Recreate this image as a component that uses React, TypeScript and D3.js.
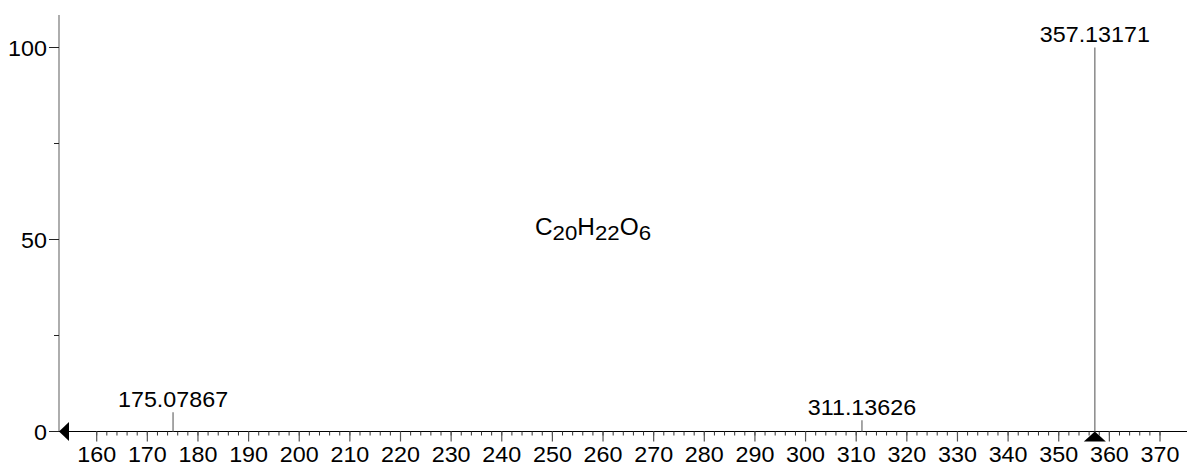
import React from "react";
import * as d3 from "d3";

const peakMz = [175.07867, 311.13626, 357.13171];
const peakIntensity = [5.0, 2.9, 100];
const peakLabels = ["175.07867", "311.13626", "357.13171"];
const precursorMz = 357.13171;
const xMajorTicks = d3.range(160, 371, 10);
const xMinorTicks = d3.range(160, 371, 2);
const yMajorTicks = [0, 50, 100];
const yMinorTicks = [25, 75];
const formulaParts = [
  { t: "C", sub: false },
  { t: "20", sub: true },
  { t: "H", sub: false },
  { t: "22", sub: true },
  { t: "O", sub: false },
  { t: "6", sub: true },
];

const W = 1187;
const H = 466;
const FONT = "'Liberation Sans', Arial, Helvetica, sans-serif";
const SX = 1.06;
const FS = 22;

export default function App() {
  const x = d3.scaleLinear().domain([160, 370]).range([96.7, 1160]);
  const y = d3.scaleLinear().domain([0, 100]).range([431.5, 47.5]);
  const axisLeft = 59;
  const y0 = y(0);

  const T = (props: { x: number; y: number; anchor: string; children: any }) => (
    <g transform={`translate(${props.x},${props.y}) scale(${SX},1)`}>
      <text x={0} y={0} textAnchor={props.anchor} fontSize={FS} fontFamily={FONT} fill="#000">
        {props.children}
      </text>
    </g>
  );

  return (
    <svg width={W} height={H} style={{ position: "absolute", left: 0, top: 0, background: "#fff" }}>
      <rect width={W} height={H} fill="#fff" />
      {/* y axis */}
      <line x1={axisLeft} x2={axisLeft} y1={15} y2={y0} stroke="#777" strokeWidth={1.2} />
      {yMajorTicks.map((v) => (
        <g key={"ym" + v}>
          <line x1={axisLeft - 10} x2={axisLeft} y1={y(v)} y2={y(v)} stroke="#222" strokeWidth={1} />
          <T x={axisLeft - 12} y={y(v) + 8} anchor="end">{v}</T>
        </g>
      ))}
      {yMinorTicks.map((v) => (
        <line key={"yn" + v} x1={axisLeft - 5} x2={axisLeft} y1={y(v)} y2={y(v)} stroke="#222" strokeWidth={1} />
      ))}
      {/* x axis */}
      <line x1={axisLeft} x2={W} y1={y0} y2={y0} stroke="#000" strokeWidth={1} />
      {xMinorTicks.map((v) => (
        <line key={"xn" + v} x1={x(v)} x2={x(v)} y1={y0} y2={y0 + 4} stroke="#333" strokeWidth={1} />
      ))}
      {xMajorTicks.map((v) => (
        <g key={"xm" + v}>
          <line x1={x(v)} x2={x(v)} y1={y0} y2={y0 + 10} stroke="#555" strokeWidth={1.2} />
          <T x={x(v)} y={462} anchor="middle">{v}</T>
        </g>
      ))}
      {/* left arrow */}
      <path d={`M${axisLeft},${y0} L${axisLeft + 10},${y0 - 9.5} L${axisLeft + 10},${y0 + 9.5} Z`} fill="#000" />
      {/* peaks */}
      {peakMz.map((m, i) => (
        <g key={"p" + i}>
          <line x1={x(m)} x2={x(m)} y1={y0} y2={y(peakIntensity[i])} stroke="#777" strokeWidth={1.3} />
          <T x={x(m)} y={y(peakIntensity[i]) - 5.5} anchor="middle">{peakLabels[i]}</T>
        </g>
      ))}
      {/* precursor marker */}
      <path
        d={`M${x(precursorMz)},${y0} L${x(precursorMz) + 11},${y0 + 10} L${x(precursorMz) - 11},${y0 + 10} Z`}
        fill="#000"
      />
      {/* formula */}
      <g transform={`translate(535,235) scale(${SX},1)`}>
        <text fontFamily={FONT} fontSize={23}>
          {formulaParts.map((p, i) => (
            <tspan key={i} fontSize={p.sub ? 21 : 23} dy={p.sub ? 5 : i === 0 ? 0 : -5}>
              {p.t}
            </tspan>
          ))}
        </text>
      </g>
    </svg>
  );
}
